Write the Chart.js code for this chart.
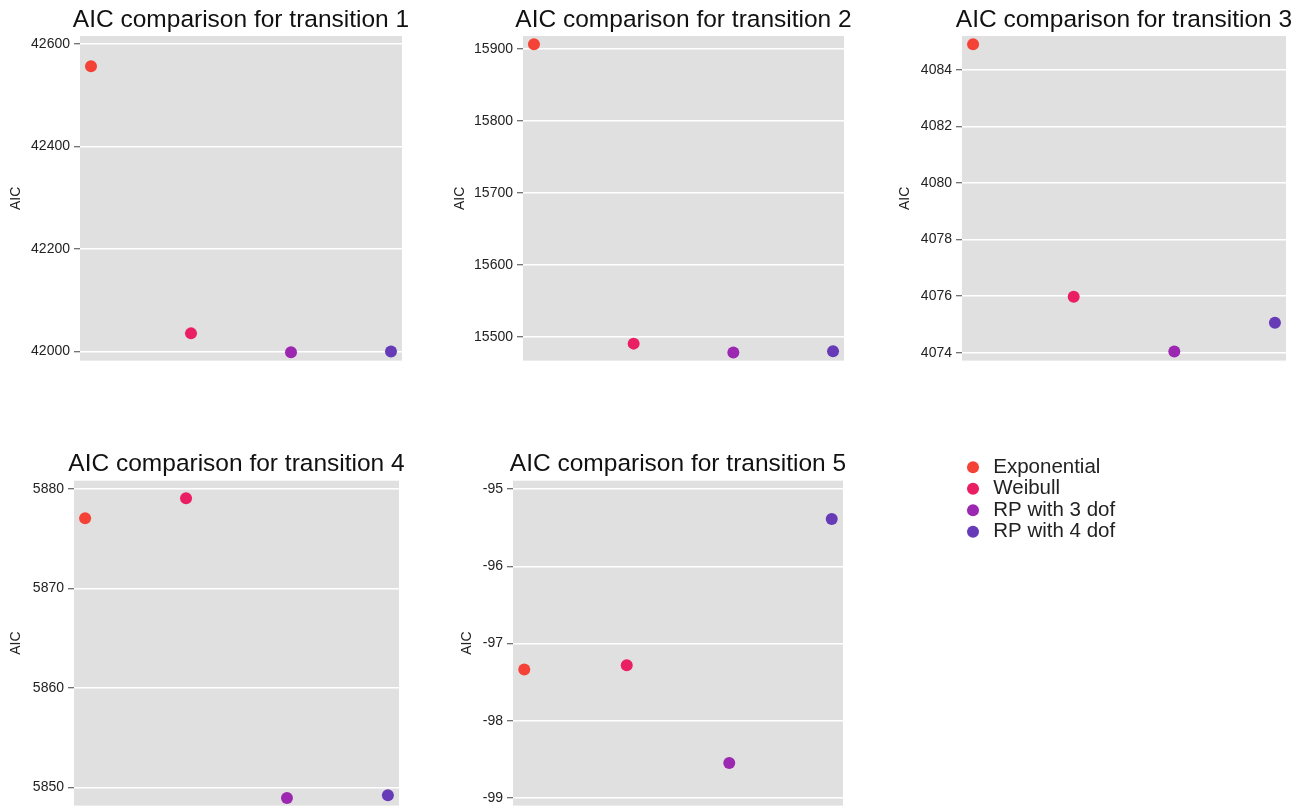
<!DOCTYPE html>
<html>
<head>
<meta charset="utf-8">
<script src="https://cdn.jsdelivr.net/npm/chart.js@4.4.1/dist/chart.umd.min.js"></script>
<style>
  html, body { margin:0; padding:0; background:#fff; overflow:hidden; width:1302px; height:810px; }
  canvas { position:absolute; }
</style>
</head>
<body>
<script>
/* AIC per model, one array per transition */
const MODELS = ["Exponential", "Weibull", "RP with 3 dof", "RP with 4 dof"];
const MODEL_COLORS = ["#f44336", "#e91e63", "#9c27b0", "#673ab7"];

const AIC_T1 = [42556.6, 42035.6, 41998.7, 42000.3];
const AIC_T2 = [15906.5, 15490.3, 15477.8, 15479.6];
const AIC_T3 = [4084.91, 4075.98, 4074.04, 4075.06];
const AIC_T4 = [5877.09, 5879.1, 5848.93, 5849.2];
const AIC_T5 = [-97.337, -97.28, -98.548, -95.385];

const TICKS_T1 = [42000, 42200, 42400, 42600];
const TICKS_T2 = [15500, 15600, 15700, 15800, 15900];
const TICKS_T3 = [4074, 4076, 4078, 4080, 4082, 4084];
const TICKS_T4 = [5850, 5860, 5870, 5880];
const TICKS_T5 = [-99, -98, -97, -96, -95];

const FONT = "'Liberation Sans', Arial, Helvetica, sans-serif";

/* placement of each small chart (page px) */
const PANELS = [
  { n:1, aic:AIC_T1, ticks:TICKS_T1, ymin:41982.5, ymax:42615.6, left:8,   top:6,   axisW:72, plotW:322, height:367, gap:0.6 },
  { n:2, aic:AIC_T2, ticks:TICKS_T2, ymin:15466.7, ymax:15918,   left:452, top:6,   axisW:71, plotW:321, height:367, gap:0.6 },
  { n:3, aic:AIC_T3, ticks:TICKS_T3, ymin:4073.72, ymax:4085.2,  left:897, top:6,   axisW:65, plotW:324, height:367, gap:0.6 },
  { n:4, aic:AIC_T4, ticks:TICKS_T4, ymin:5848.16, ymax:5880.86, left:8,   top:450, axisW:66, plotW:325, height:368, gap:1.3 },
  { n:5, aic:AIC_T5, ticks:TICKS_T5, ymin:-99.10,  ymax:-94.89,  left:459, top:450, axisW:54, plotW:330, height:368, gap:1.3 }
];

const plotBg = {
  id: "plotBg",
  beforeDraw(chart){
    const a = chart.chartArea, ctx = chart.ctx;
    ctx.save();
    ctx.fillStyle = "#e0e0e0";
    ctx.fillRect(a.left, a.top, a.right - a.left, a.bottom - a.top);
    ctx.restore();
  }
};

function addCanvas(left, top, w, h){
  const c = document.createElement("canvas");
  c.width = w; c.height = h;
  c.style.left = left + "px"; c.style.top = top + "px";
  c.style.width = w + "px"; c.style.height = h + "px";
  document.body.appendChild(c);
  return c;
}

PANELS.forEach(p => {
  const w = p.axisW * 2 + p.plotW;
  const cv = addCanvas(p.left, p.top, w, p.height);
  new Chart(cv, {
    type: "scatter",
    data: {
      datasets: MODELS.map((m, i) => ({
        label: m,
        data: [{ x: i, y: p.aic[i] }],
        backgroundColor: MODEL_COLORS[i],
        borderColor: MODEL_COLORS[i],
        pointRadius: 6,
        pointHoverRadius: 6,
        pointBorderWidth: 0
      }))
    },
    options: {
      responsive: false,
      animation: false,
      events: [],
      layout: { padding: 0 },
      plugins: {
        legend: { display: false },
        tooltip: { enabled: false },
        title: {
          display: true,
          text: `AIC comparison for transition ${p.n}`,
          color: "#111",
          font: { family: FONT, size: 24.5, weight: "normal" },
          padding: { top: 0, bottom: p.gap }
        }
      },
      scales: {
        x: { type: "linear", display: false, min: -0.11, max: 3.11 },
        y: {
          min: p.ymin, max: p.ymax,
          afterBuildTicks: s => { s.ticks = p.ticks.map(v => ({ value: v })); },
          afterFit: s => { s.width = p.axisW; },
          ticks: { color: "#222", font: { family: FONT, size: 14 }, padding: 4, callback: v => String(v) },
          grid: { color: "#ffffff", lineWidth: 1.5, tickColor: "#444", tickLength: 6, tickWidth: 1 },
          border: { display: false },
          title: { display: true, text: "AIC", color: "#222", font: { family: FONT, size: 14 }, padding: 0 }
        },
        // empty right axis, only keeps the title centred over the plot
        y2: {
          position: "right",
          afterFit: s => { s.width = p.axisW; },
          ticks: { display: false },
          grid: { display: false },
          border: { display: false }
        }
      }
    },
    plugins: [plotBg]
  });
});

/* shared legend */
const lg = addCanvas(962, 456, 400, 130);
new Chart(lg, {
  type: "scatter",
  data: {
    datasets: MODELS.map((m, i) => ({
      label: m, data: [],
      backgroundColor: MODEL_COLORS[i], borderColor: MODEL_COLORS[i],
      pointRadius: 6, borderWidth: 0, pointBorderWidth: 0
    }))
  },
  options: {
    responsive: false,
    animation: false,
    events: [],
    layout: { padding: 0 },
    scales: { x: { display: false }, y: { display: false } },
    plugins: {
      tooltip: { enabled: false },
      legend: {
        position: "left",
        align: "start",
        labels: {
          usePointStyle: true,
          pointStyle: "circle",
          boxWidth: 20,
          boxHeight: 8.5,
          padding: 1,
          color: "#222",
          font: { family: FONT, size: 20.5 }
        }
      }
    }
  }
});
</script>
</body>
</html>
